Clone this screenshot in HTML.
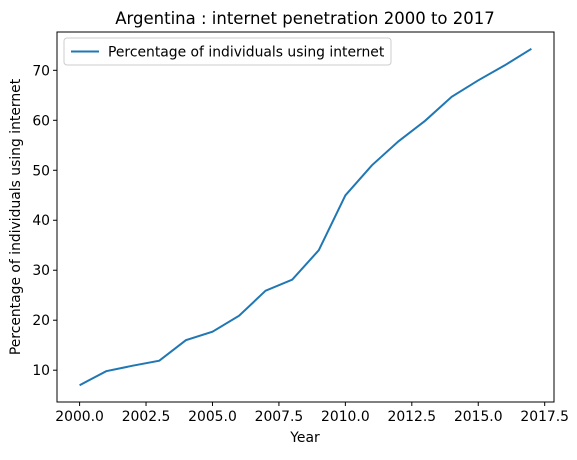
<!DOCTYPE html>
<html><head><meta charset="utf-8"><style>
body{margin:0;background:#fff}
svg text{font-family:"DejaVu Sans","Liberation Sans",sans-serif;fill:#000}
</style></head><body>
<svg id="c" width="577" height="455">
<rect width="577" height="455" fill="#fff"/>
<text x="305" y="24" text-anchor="middle" font-size="16.5">Argentina : internet penetration 2000 to 2017</text>
<g id="ticks"></g>
<path id="line" fill="none" stroke="#1f77b4" stroke-width="2"/>
<rect x="57" y="32" width="497" height="370" fill="none" stroke="#000" stroke-width="1"/>
<text x="305" y="442" text-anchor="middle" font-size="13.9">Year</text>
<text transform="translate(20,217) rotate(-90)" text-anchor="middle" font-size="13.9">Percentage of individuals using internet</text>
<g>
<rect x="64" y="38" width="327" height="27" rx="3" fill="#fff" stroke="#ccc"/>
<line x1="71" y1="51.5" x2="99" y2="51.5" stroke="#1f77b4" stroke-width="2"/>
<text x="108" y="56.5" font-size="13.9">Percentage of individuals using internet</text>
</g>
</svg>
<script>
const years=[2000,2001,2002,2003,2004,2005,2006,2007,2008,2009,2010,2011,2012,2013,2014,2015,2016,2017];
const values=[7.0,9.8,10.9,11.9,16.0,17.7,20.9,25.9,28.1,34.0,45.0,51.0,55.8,59.9,64.7,68.0,71.0,74.3];
const xTicks=[2000,2002.5,2005,2007.5,2010,2012.5,2015,2017.5];
const yTicks=[10,20,30,40,50,60,70];
const L=57,R=554,T=32,B=402;
const x0=Math.min(...years),x1=Math.max(...years),xm=(x1-x0)*0.05;
const y0=Math.min(...values),y1=Math.max(...values),ym=(y1-y0)*0.05;
const sx=v=>L+(v-(x0-xm))/((x1+xm)-(x0-xm))*(R-L);
const sy=v=>B-(v-(y0-ym))/((y1+ym)-(y0-ym))*(B-T);
const NS="http://www.w3.org/2000/svg";
const g=document.getElementById('ticks');
function mk(t,a){const e=document.createElementNS(NS,t);for(const k in a)e.setAttribute(k,a[k]);return e;}
xTicks.forEach(v=>{const x=sx(v);
const l=mk('line',{x1:x,x2:x,y1:B,y2:B+4,stroke:'#000'});


g.appendChild(l);
const t=mk('text',{x:x,y:B+19,'text-anchor':'middle','font-size':13.9});


t.textContent=v.toFixed(1);g.appendChild(t);});
yTicks.forEach(v=>{const y=sy(v);
const l=mk('line',{x1:L-4,x2:L,y1:y,y2:y,stroke:'#000'});


g.appendChild(l);
const t=mk('text',{x:L-7,y:y+5,'text-anchor':'end','font-size':13.9});


t.textContent=v;g.appendChild(t);});
document.getElementById('line').setAttribute('d',years.map((v,i)=>(i?'L':'M')+sx(v).toFixed(1)+' '+sy(values[i]).toFixed(1)).join(' '));
</script>
</body></html>
